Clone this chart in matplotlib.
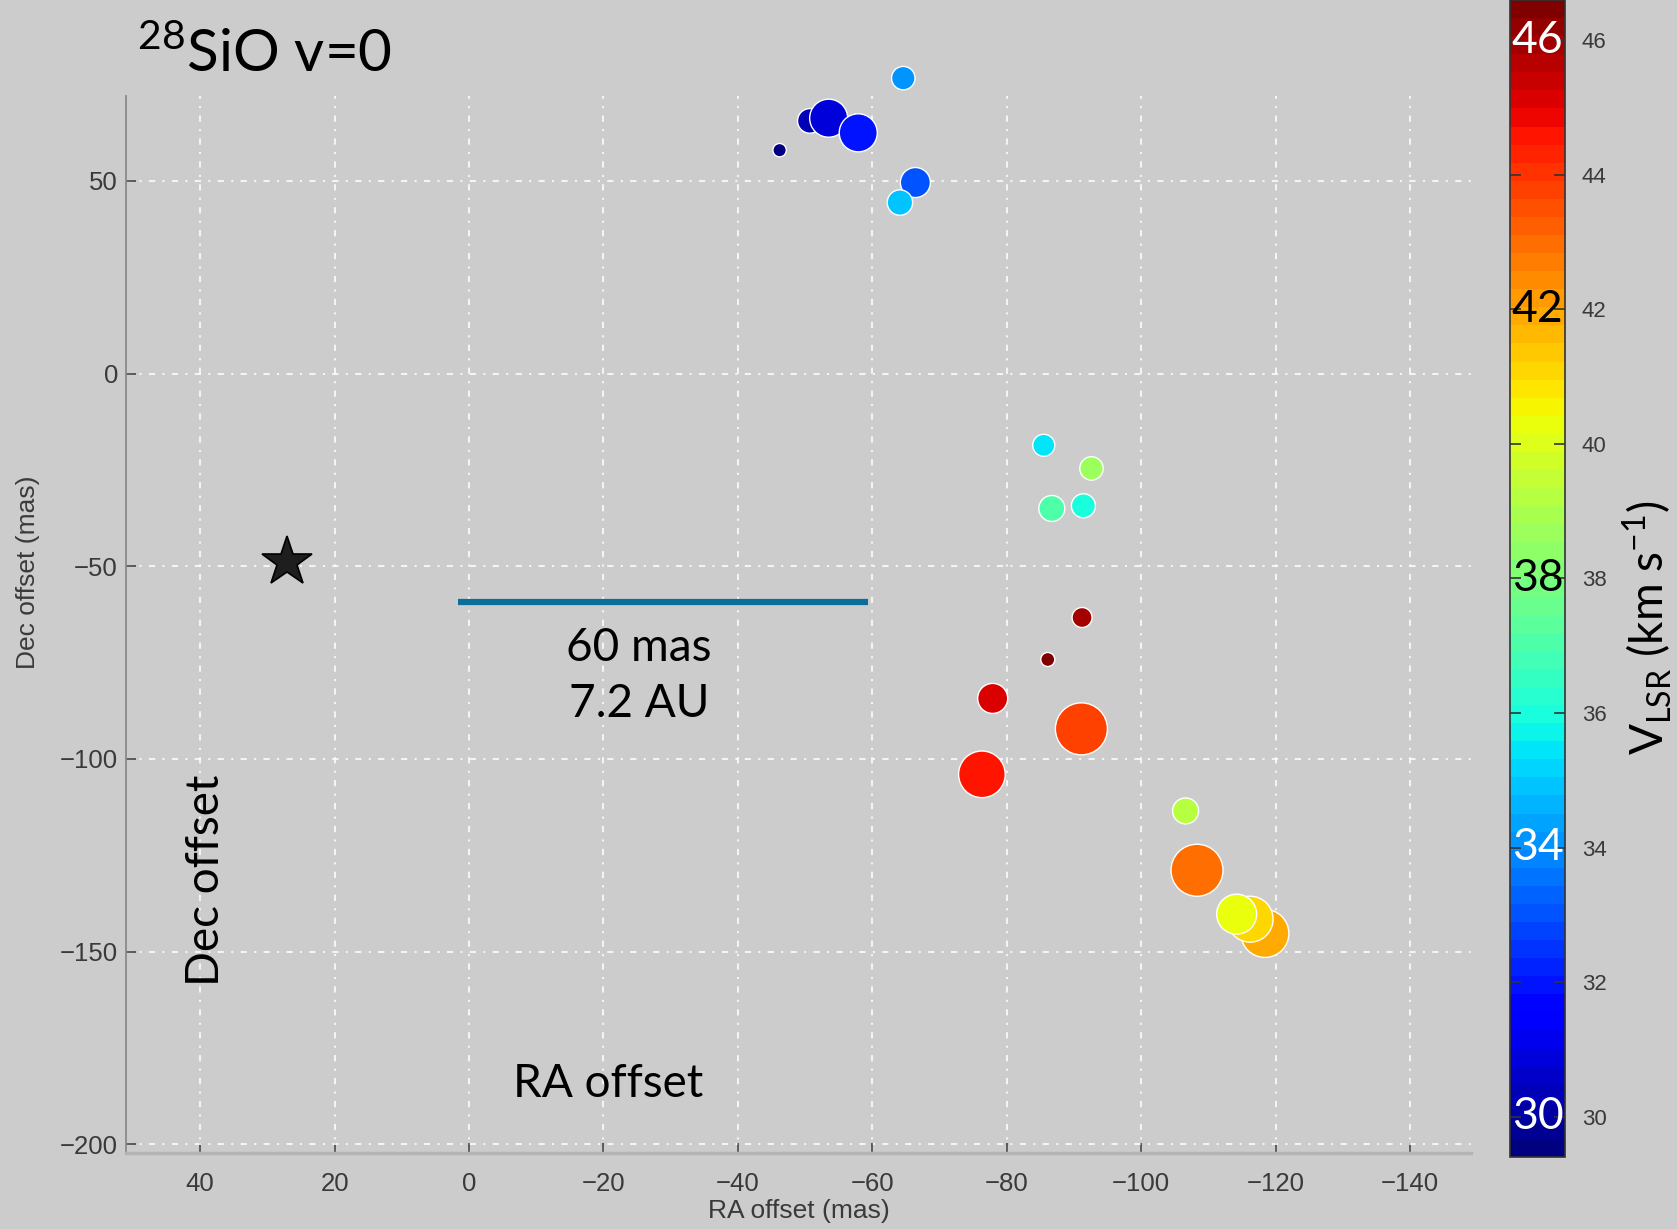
import matplotlib
matplotlib.use("Agg")
import matplotlib.pyplot as plt
import matplotlib.colors as mcolors
import matplotlib.colorbar as mcolorbar
import numpy as np

# 28SiO v=0 maser spots: offsets (mas), LSR velocity (km/s), marker area
ra_offset = [-64.6, -46.2, -50.7, -53.5, -57.9, -66.4, -64.1,
             -85.5, -92.6, -86.7, -91.4, -91.2, -86.1, -77.9,
             -91.1, -76.3, -106.6, -108.3, -118.4, -116.2, -114.2]
dec_offset = [76.7, 58.0, 65.6, 66.3, 62.5, 49.6, 44.4,
              -18.6, -24.6, -35.0, -34.3, -63.3, -74.2, -84.3,
              -92.2, -104.0, -113.5, -128.9, -145.3, -141.6, -140.3]
v_lsr = [34.1, 29.6, 30.3, 31.0, 31.9, 32.9, 34.8,
         35.4, 38.6, 37.1, 36.1, 46.0, 46.4, 45.2,
         43.9, 44.6, 39.3, 43.0, 42.0, 41.1, 40.4]
spot_area = [284, 93, 314, 749, 749, 467, 334,
             251, 284, 350, 299, 207, 102, 467,
             1402, 1126, 350, 1402, 1194, 1097, 829]

# Stellar position and scale bar
star_ra, star_dec = 27.1, -48.9
bar_ra = [1.7, -59.4]
bar_dec = [-59.2, -59.2]

x_ticks = [40, 20, 0, -20, -40, -60, -80, -100, -120, -140]
y_ticks = [50, 0, -50, -100, -150, -200]
cbar_ticks = [30, 32, 34, 36, 38, 40, 42, 44, 46]
cbar_big = [46, 42, 38, 34, 30]
cbar_big_colors = ["white", "black", "black", "white", "white"]
v_min, v_max = 29.4, 46.6

BG = "#cccccc"
small_font = ["Liberation Sans Narrow", "Liberation Sans", "DejaVu Sans"]
big_font = ["Lato", "DejaVu Sans"]

plt.rcParams["mathtext.fontset"] = "custom"
plt.rcParams["mathtext.rm"] = "Lato"
plt.rcParams["axes.unicode_minus"] = True

fig = plt.figure(figsize=(16.77, 12.29), dpi=100, facecolor=BG)
ax = fig.add_axes([0.0753, 0.0618, 0.8016, 0.8599], facecolor=BG)

cmap = plt.get_cmap("jet", 64)
norm = mcolors.Normalize(vmin=v_min, vmax=v_max)

ax.set_xlim(51, -149)
ax.set_ylim(-202.3, 72)

# grid
ax.set_xticks(x_ticks)
ax.set_yticks(y_ticks)
ax.grid(True, color="white", linestyle=(0, (3, 3.5, 1, 3.5)), linewidth=1.5, alpha=0.8)
ax.set_axisbelow(True)

for side in ("top", "right"):
    ax.spines[side].set_visible(False)
ax.spines["left"].set_color("#8a8a8a")
ax.spines["left"].set_linewidth(1.3)
ax.spines["bottom"].set_color("#b4b4b4")
ax.spines["bottom"].set_linewidth(2.5)

ax.tick_params(axis="both", direction="in", length=7, width=1.2, colors="#444444",
               labelsize=18.5, labelcolor="#3a3a3a")
ax.tick_params(axis="x", pad=14)
ax.tick_params(axis="y", pad=6)
for lab in ax.get_xticklabels() + ax.get_yticklabels():
    lab.set_family(small_font)

ax.set_xlabel("RA offset (mas)", fontsize=19, color="#3a3a3a", family=small_font, labelpad=2)
ax.set_ylabel("Dec offset (mas)", fontsize=19, color="#3a3a3a", family=small_font)
ax.yaxis.set_label_coords(-0.064, 0.55)

# maser spots
ax.scatter(ra_offset, dec_offset, s=spot_area, c=v_lsr, cmap=cmap, norm=norm,
           edgecolors="white", linewidths=1.0, zorder=3, clip_on=False)

# star
ax.plot(star_ra, star_dec, marker="*", markersize=38, markerfacecolor="#1e1e1e",
        markeredgecolor="black", markeredgewidth=1.2, zorder=4)

# scale bar
ax.plot(bar_ra, bar_dec, color="#0a6e98", linewidth=4.5, solid_capstyle="butt", zorder=4)
fig.text(0.381, 0.4625, "60 mas", fontsize=33, family=big_font, ha="center", va="baseline")
fig.text(0.381, 0.4170, "7.2 AU", fontsize=33, family=big_font, ha="center", va="baseline")

# panel annotations
fig.text(0.0815, 0.9414, r"$^{\mathregular{28}}$SiO v=0", fontsize=42, family=big_font,
         ha="left", va="baseline")
fig.text(0.1228, 0.2834, "Dec offset", fontsize=33, family=big_font, rotation=90,
         ha="center", va="center")
fig.text(0.3626, 0.118, "RA offset", fontsize=33, family=big_font, ha="center", va="center")

# colorbar
cax = fig.add_axes([0.9004, 0.0586, 0.0328, 0.9414])
cb = mcolorbar.ColorbarBase(cax, cmap=cmap, norm=norm, orientation="vertical")
cb.set_ticks(cbar_ticks)
cb.outline.set_edgecolor("#333333")
cb.outline.set_linewidth(1.2)
cax.tick_params(axis="y", direction="in", left=True, right=True, length=8, width=1.2,
                colors="#333333", labelsize=16, labelcolor="#3a3a3a", pad=12)
for lab in cax.get_yticklabels():
    lab.set_family(small_font)
for val, col in zip(cbar_big, cbar_big_colors):
    cax.text(0.5, val, str(val), color=col, fontsize=32, family=big_font,
             ha="center", va="center", transform=cax.get_yaxis_transform())

fig.text(0.982, 0.489, r"V$_{\mathregular{LSR}}$ (km s$^{\mathregular{-1}}$)", fontsize=33,
         family=big_font, rotation=90, ha="center", va="center")

fig.savefig("out.png", dpi=100, facecolor=BG)
